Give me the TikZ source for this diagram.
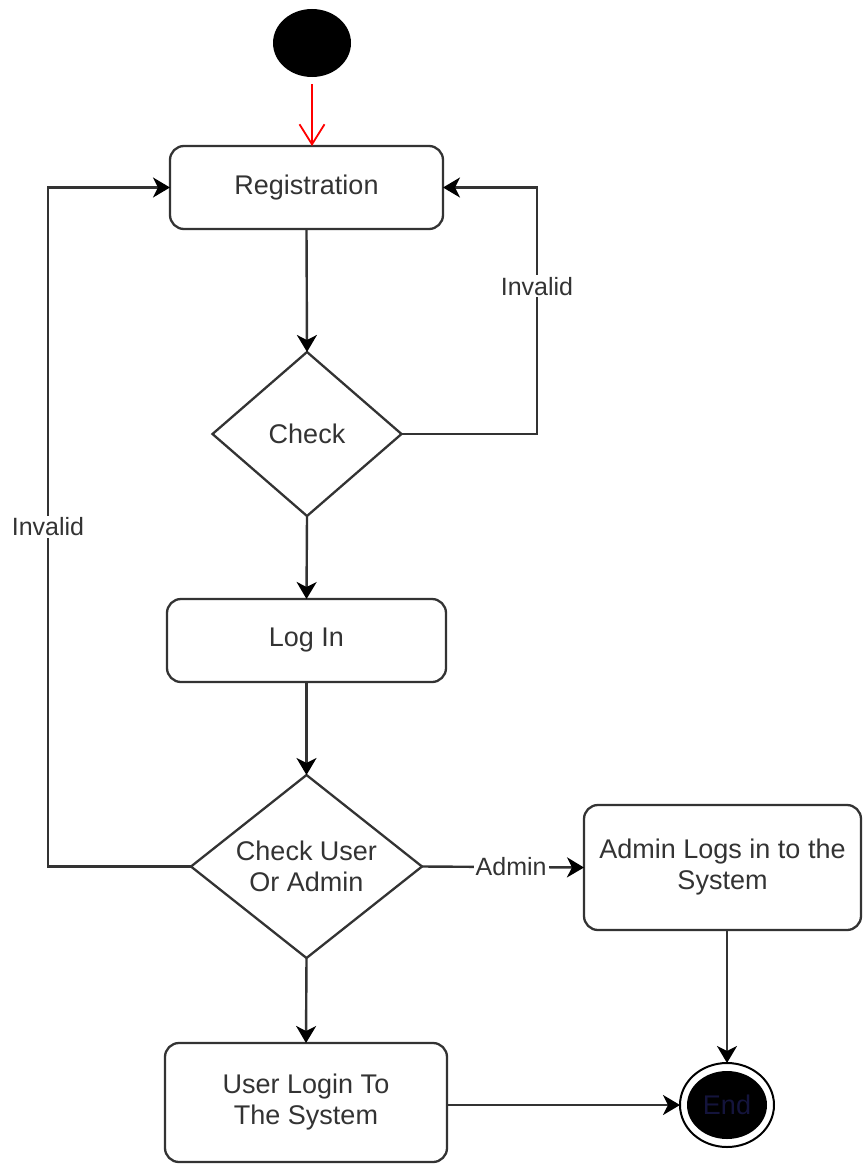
\documentclass[tikz,border=0pt]{standalone}
\usepackage{fontspec}
\setmainfont{Liberation Sans}
\usetikzlibrary{arrows.meta,shapes.geometric}
\definecolor{ink}{HTML}{333333}
\definecolor{endtxt}{HTML}{14143C}
\begin{document}
\begin{tikzpicture}[x=1pt,y=-1pt,
  every node/.style={text=ink, font=\fontsize{27}{31}\selectfont, outer sep=0pt},
  act/.style={draw=ink, line width=2.3pt, rounded corners=14pt, align=center, inner sep=0pt},
  dec/.style={draw=ink, line width=2.3pt, diamond, inner sep=0pt},
  flow/.style={draw=ink, line width=2.4pt, -{Stealth[length=17pt,width=20pt,inset=5pt,black]}},
  lbl/.style={fill=white, font=\fontsize{25}{30}\selectfont, inner sep=2pt}
]
\useasboundingbox (0,0) rectangle (863,1164);

% initial and final states
\node[ellipse, fill=black, minimum width=78pt, minimum height=68pt, inner sep=0pt] (start) at (312,43) {};
\node[ellipse, draw=black, line width=2pt, minimum width=94pt, minimum height=84pt, inner sep=0pt] (endring) at (727,1105) {};
\node[ellipse, fill=black, minimum width=80pt, minimum height=68pt, inner sep=0pt, text=endtxt] (endcore) at (727,1105) {End};

% activities
\node[act, minimum width=273pt, minimum height=83pt] (reg) at (306.5,187.5) {Registration};
\node[dec, minimum width=189pt, minimum height=164pt] (chk) at (307,434) {};
\node (chktxt) at (chk) {Check};
\node[act, minimum width=279pt, minimum height=83pt] (login) at (306.5,640.5) {Log In};
\node[dec, minimum width=231pt, minimum height=183pt] (cua) at (306.5,866.5) {};
\node[align=center] (cuatxt) at (cua) {Check User\\Or Admin};
\node[act, minimum width=277pt, minimum height=125pt] (admin) at (722.5,867.5) {Admin Logs in to the\\System};
\node[act, minimum width=282pt, minimum height=119pt] (ulogin) at (306,1102.5) {User Login To\\The System};

% loop-back corners
\coordinate (rloop) at (537,187.5);
\coordinate (lloop) at (48,187.5);

% transitions
\draw[red, line width=1.8pt, shorten <=7pt, -{Straight Barb[length=20pt,width=25pt]}] (start.south) -- (start.south |- reg.north);
\draw[flow] (reg.south) -- (chk.north);
\draw[flow] (chk.east) -| node[lbl, pos=0.8] {Invalid} (rloop) -- (reg.east);
\draw[flow] (chk.south) -- (login.north);
\draw[flow] (login.south) -- (cua.north);
\draw[flow] (cua.west) -| node[lbl, pos=0.75] {Invalid} (lloop) -- (reg.west);
\draw[flow] (cua.east) -- node[lbl, pos=0.55] {Admin} (admin.west);
\draw[flow] (cua.south) -- (ulogin.north);
\draw[flow] (endring.north |- admin.south) -- (endring.north);
\draw[flow] (ulogin.east |- endring.west) -- (endring.west);
\end{tikzpicture}
\end{document}
